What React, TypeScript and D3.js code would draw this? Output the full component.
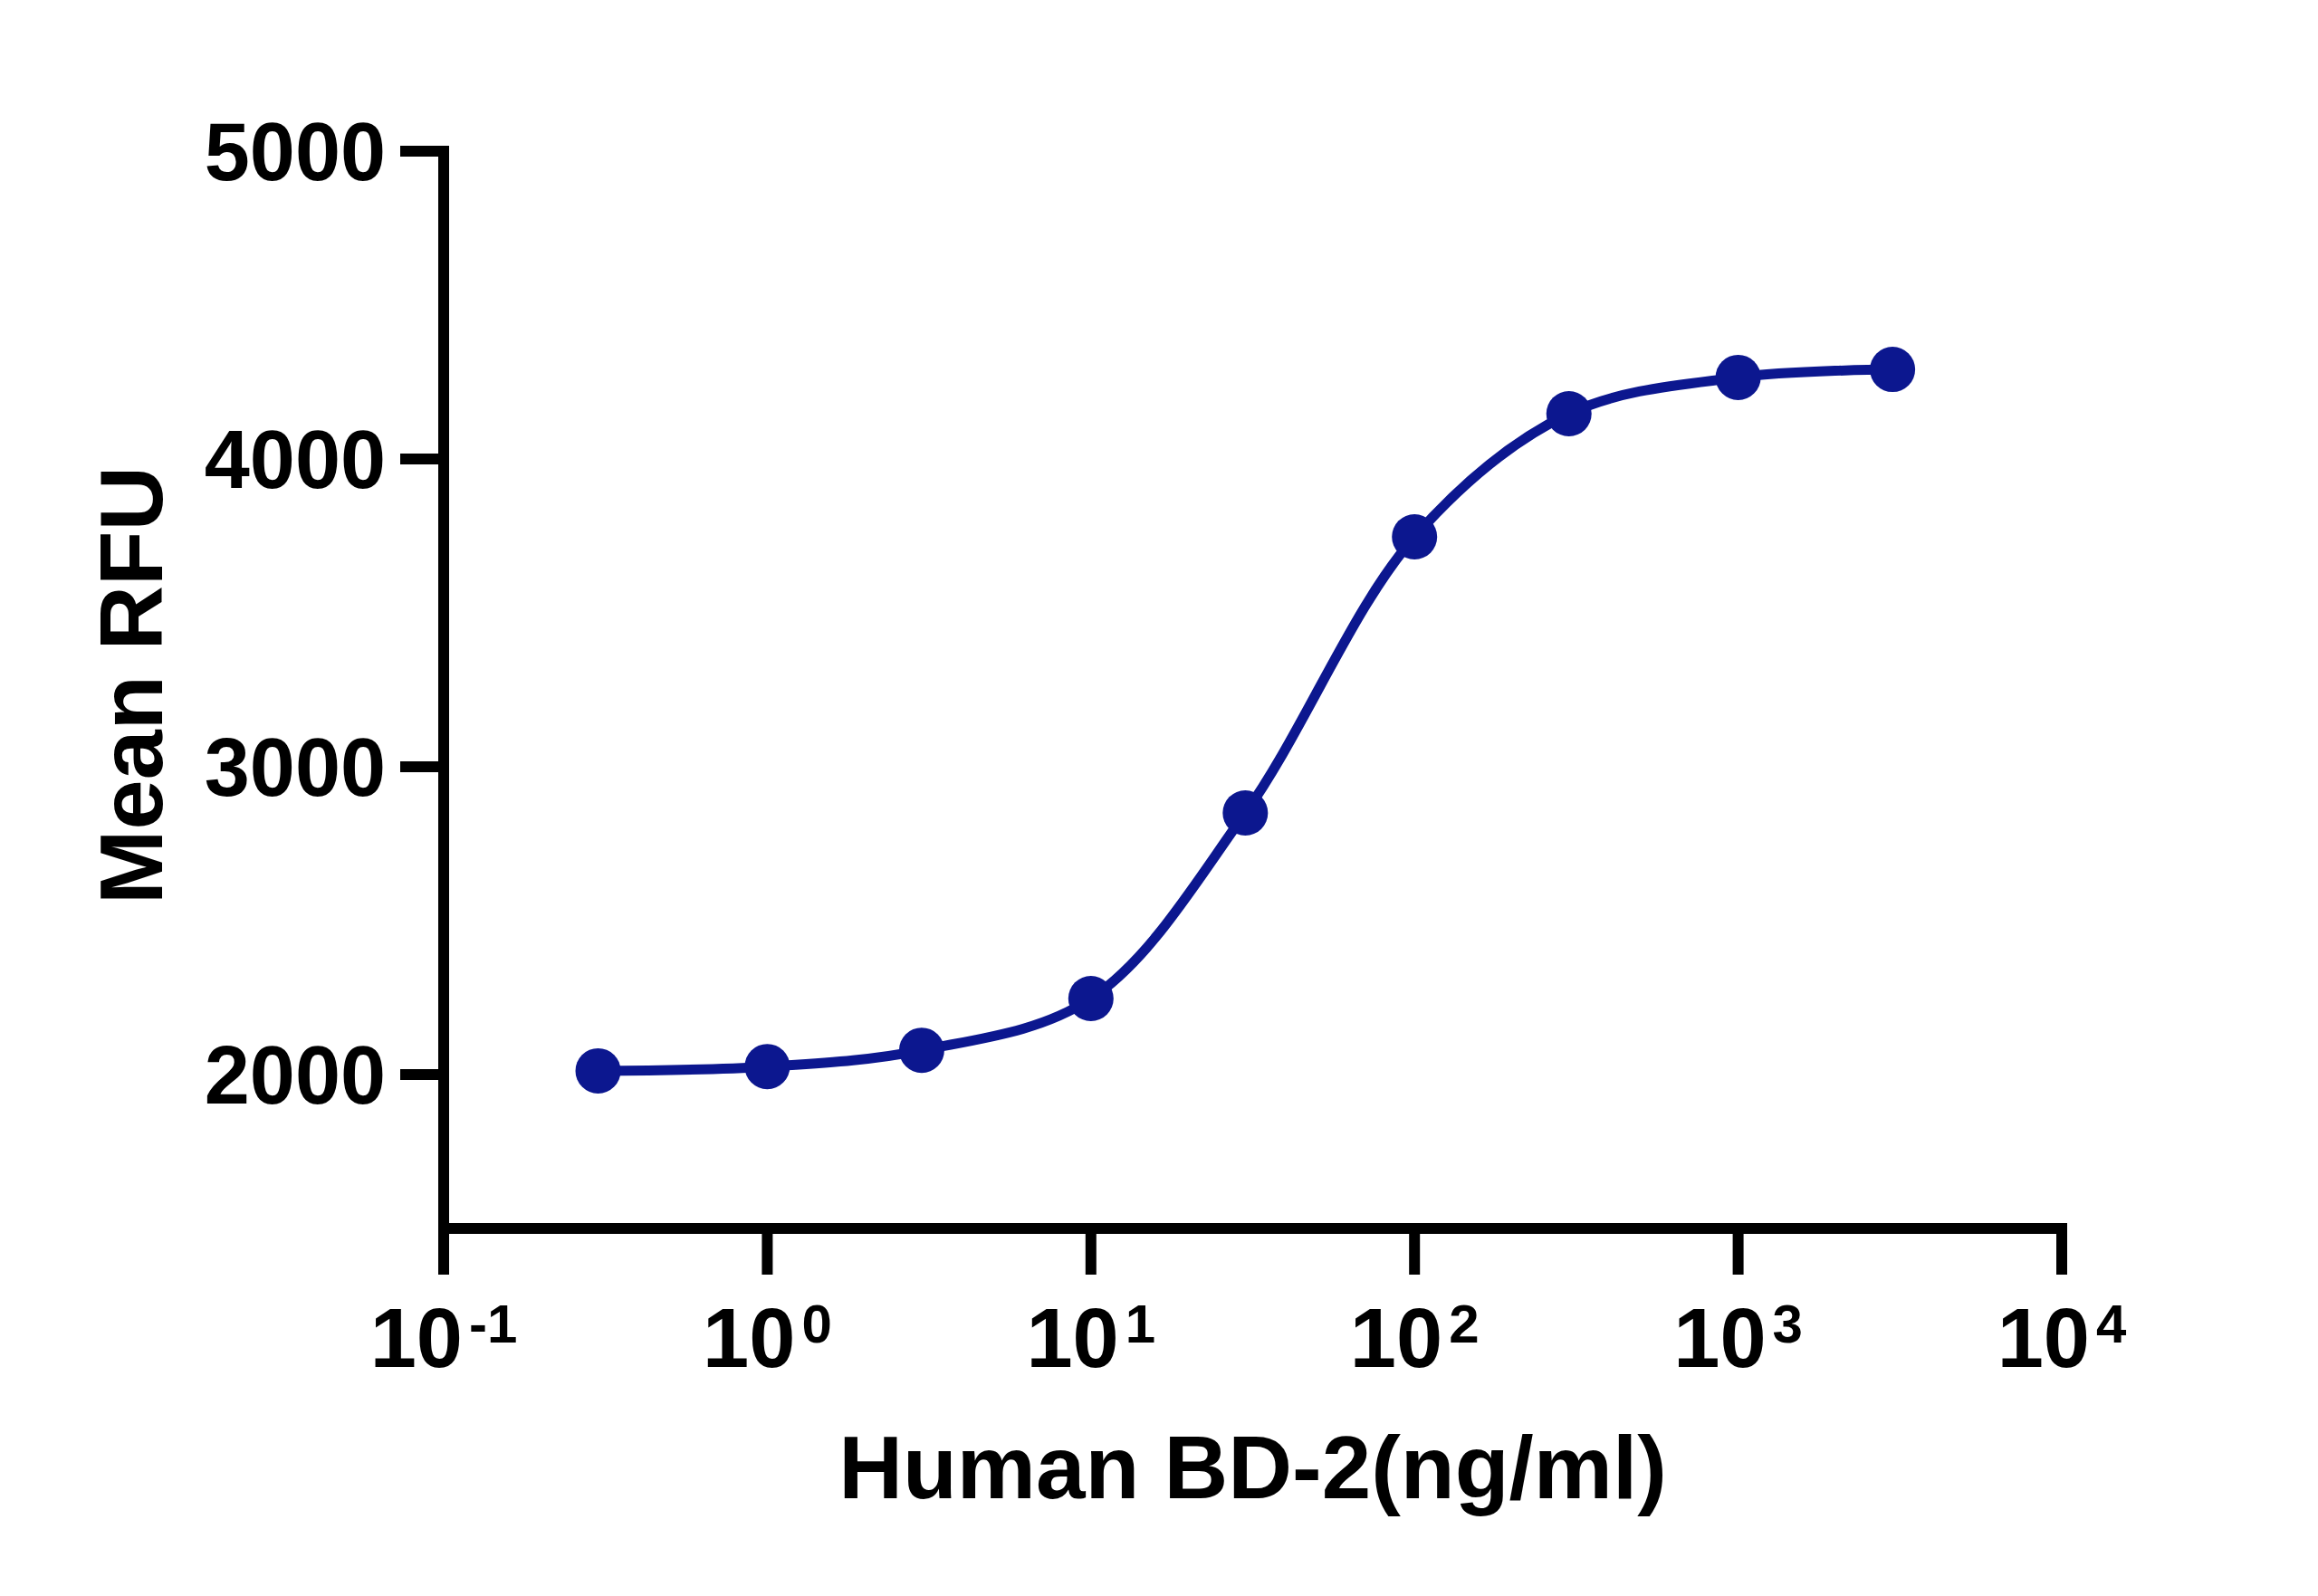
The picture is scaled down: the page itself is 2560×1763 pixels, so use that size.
import React from 'react';
import * as d3 from 'd3';

// concentration (ng/ml) and measured mean RFU
const concentrations = [0.3, 1, 3, 10, 30, 100, 300, 1000, 3000];
const meanRfu = [2012, 2026, 2079, 2247, 2850, 3747, 4147, 4265, 4291];

const yTicks = [2000, 3000, 4000, 5000];
const xTickExponents = [-1, 0, 1, 2, 3, 4];

const xTitle = 'Human BD-2(ng/ml)';
const yTitle = 'Mean RFU';

const width = 2560;
const height = 1763;
const margin = { top: 167, right: 283, bottom: 406, left: 490 };

const font = '"Liberation Sans", Arial, Helvetica, sans-serif';
const navy = '#0c178f';
const axisWidth = 12;
const tickLen = 48;

export default function App() {
    const xScale = d3.scaleLog()
        .domain([0.1, 10000])
        .range([margin.left, width - margin.right]);

    const yScale = d3.scaleLinear()
        .domain([1500, 5000])
        .range([height - margin.bottom, margin.top]);

    const points = concentrations.map((c, i) => ({ x: c, y: meanRfu[i] }));

    const line = d3.line<{ x: number, y: number }>()
        .x(d => xScale(d.x))
        .y(d => yScale(d.y))
        .curve(d3.curveCatmullRom.alpha(0.5));

    const x0 = xScale.range()[0];
    const x1 = xScale.range()[1];
    const yBottom = yScale.range()[0];
    const yTop = yScale.range()[1];

    return (
        <svg
            width={width}
            height={height}
            style={{ position: 'absolute', left: 0, top: 0, background: '#fff' }}
            fontFamily={font}
            fontWeight="bold"
        >
            {/* axes */}
            <line x1={x0} x2={x0} y1={yTop} y2={yBottom}
                stroke="#000" strokeWidth={axisWidth} strokeLinecap="square" />
            <line x1={x0} x2={x1} y1={yBottom} y2={yBottom}
                stroke="#000" strokeWidth={axisWidth} strokeLinecap="square" />

            {yTicks.map(t => (
                <g key={'y' + t}>
                    <line x1={x0 - tickLen} x2={x0} y1={yScale(t)} y2={yScale(t)}
                        stroke="#000" strokeWidth={axisWidth} />
                    <text x={x0 - tickLen - 16} y={yScale(t)} dy="0.36em"
                        textAnchor="end" fontSize={90}>{t}</text>
                </g>
            ))}

            {xTickExponents.map(e => {
                const xp = xScale(Math.pow(10, e));
                return (
                    <g key={'x' + e}>
                        <line x1={xp} x2={xp} y1={yBottom} y2={yBottom + tickLen + 3}
                            stroke="#000" strokeWidth={axisWidth} />
                        <text x={xp} y={yBottom + 153} textAnchor="middle" fontSize={92}>
                            10
                            <tspan dx={7} dy={-27} fontSize={60}>{e}</tspan>
                        </text>
                    </g>
                );
            })}

            {/* fitted curve and data points */}
            <path d={line(points) || ''} fill="none" stroke={navy}
                strokeWidth={11} strokeLinejoin="round" />
            {points.map((d, i) => (
                <circle key={i} cx={xScale(d.x)} cy={yScale(d.y)} r={25} fill={navy} />
            ))}

            {/* titles */}
            <text x={(x0 + x1) / 2} y={1655} textAnchor="middle" fontSize={98}>
                {xTitle}
            </text>
            <text transform={`translate(179, ${(yTop + yBottom) / 2 - 5}) rotate(-90)`}
                textAnchor="middle" fontSize={99}>
                {yTitle}
            </text>
        </svg>
    );
}
